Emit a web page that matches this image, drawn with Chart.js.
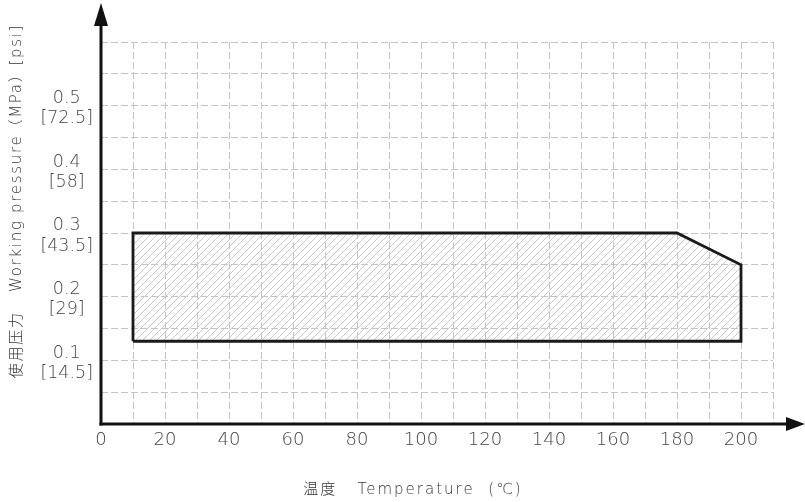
<!DOCTYPE html>
<html>
<head>
<meta charset="utf-8">
<script src="https://cdn.jsdelivr.net/npm/chart.js@4.4.1/dist/chart.umd.min.js"></script>
<style>
  html, body { margin: 0; padding: 0; background: #ffffff; }
  #wrap { width: 805px; height: 502px; position: relative; }
</style>
</head>
<body>
<div id="wrap"><canvas id="chart" width="805" height="502"></canvas></div>
<script>
// Operating envelope: temperature (°C) against working pressure (MPa), traced as a closed outline
const envelopeTemperature = [10, 10, 180, 200, 200, 10];
const envelopePressure    = [0.13, 0.30, 0.30, 0.25, 0.13, 0.13];

// Axis labelling
const temperatureTicks = [0, 20, 40, 60, 80, 100, 120, 140, 160, 180, 200];
const pressureTicksMPa = [0.1, 0.2, 0.3, 0.4, 0.5];
const pressureTicksPsi = ['14.5', '29', '43.5', '58', '72.5'];

const xTitle = '温度   Temperature  (℃)';
const yTitle = '使用压力   Working pressure（MPa）[psi]';

const TEXT_FONT = "'DejaVu Sans', 'Noto Sans CJK SC', sans-serif";

// Light diagonal hatching for the envelope fill
function makeHatch() {
  const tile = document.createElement('canvas');
  tile.width = 7; tile.height = 7;
  const g = tile.getContext('2d');
  g.strokeStyle = '#c9c9c9';
  g.lineWidth = 1;
  g.beginPath();
  g.moveTo(0, 7); g.lineTo(7, 0);
  g.moveTo(-1, 1); g.lineTo(1, -1);
  g.moveTo(6, 8); g.lineTo(8, 6);
  g.stroke();
  return document.getElementById('chart').getContext('2d').createPattern(tile, 'repeat');
}

const envelopePoints = envelopeTemperature.map((t, i) => ({ x: t, y: envelopePressure[i] }));

// Solid axes with arrowheads, running past the plotting grid
const arrowAxes = {
  id: 'arrowAxes',
  afterDatasetsDraw(chart) {
    const { ctx, chartArea } = chart;
    const x0 = chartArea.left, y0 = chartArea.bottom;
    ctx.save();
    ctx.strokeStyle = '#111111';
    ctx.fillStyle = '#111111';
    ctx.lineWidth = 3;
    ctx.lineCap = 'butt';
    // vertical axis
    ctx.beginPath();
    ctx.moveTo(x0, y0 + 1.5);
    ctx.lineTo(x0, 20);
    ctx.stroke();
    ctx.beginPath();
    ctx.moveTo(x0, 3);
    ctx.lineTo(x0 - 7, 26);
    ctx.lineTo(x0 + 7, 26);
    ctx.closePath();
    ctx.fill();
    // horizontal axis
    ctx.beginPath();
    ctx.moveTo(x0 - 1.5, y0);
    ctx.lineTo(790, y0);
    ctx.stroke();
    ctx.beginPath();
    ctx.moveTo(805, y0);
    ctx.lineTo(786, y0 - 7);
    ctx.lineTo(786, y0 + 7);
    ctx.closePath();
    ctx.fill();
    ctx.restore();
  }
};

// Axis titles
const axisTitles = {
  id: 'axisTitles',
  afterDraw(chart) {
    const { ctx } = chart;
    ctx.save();
    ctx.fillStyle = '#333333';
    ctx.textAlign = 'center';
    ctx.textBaseline = 'middle';
    ctx.font = '200 15px ' + TEXT_FONT;
    ctx.letterSpacing = '2px';
    ctx.fillText(xTitle, 413, 490);
    ctx.letterSpacing = '1.7px';
    ctx.translate(17, 201);
    ctx.rotate(-Math.PI / 2);
    ctx.fillText(yTitle, 0, 0);
    ctx.restore();
  }
};

new Chart(document.getElementById('chart'), {
  type: 'scatter',
  data: {
    datasets: [{
      data: envelopePoints,
      showLine: true,
      fill: 'shape',
      backgroundColor: makeHatch(),
      borderColor: '#1a1a1a',
      borderWidth: 2.8,
      borderJoinStyle: 'miter',
      pointRadius: 0,
      pointHoverRadius: 0,
      tension: 0
    }]
  },
  options: {
    responsive: false,
    devicePixelRatio: 1,
    animation: false,
    events: [],
    layout: { padding: { left: 0, right: 32, top: 42, bottom: 0 } },
    plugins: {
      legend: { display: false },
      tooltip: { enabled: false }
    },
    scales: {
      x: {
        type: 'linear',
        min: 0,
        max: 210,
        afterFit(scale) { scale.height = 78; },
        ticks: {
          stepSize: 10,
          autoSkip: false,
          maxRotation: 0,
          padding: 6,
          color: '#444444',
          font: { family: TEXT_FONT, size: 18, weight: '200' },
          callback: v => temperatureTicks.includes(v) ? String(v) : ''
        },
        grid: { color: '#c4c4c4', lineWidth: 1, drawTicks: false },
        border: { display: false, dash: [7, 3] }
      },
      y: {
        type: 'linear',
        min: 0,
        max: 0.6,
        afterFit(scale) { scale.width = 101; },
        ticks: {
          stepSize: 0.05,
          autoSkip: false,
          crossAlign: 'center',
          padding: 8,
          labelOffset: 3,
          color: '#444444',
          font: { family: TEXT_FONT, size: 17.5, weight: '200', lineHeight: 1.15 },
          callback: v => {
            const i = pressureTicksMPa.findIndex(p => Math.abs(p - v) < 1e-6);
            return i < 0 ? '' : [pressureTicksMPa[i].toFixed(1), '[' + pressureTicksPsi[i] + ']'];
          }
        },
        grid: { color: '#c4c4c4', lineWidth: 1, drawTicks: false },
        border: { display: false, dash: [7, 3] }
      }
    }
  },
  plugins: [arrowAxes, axisTitles]
});
</script>
</body>
</html>
